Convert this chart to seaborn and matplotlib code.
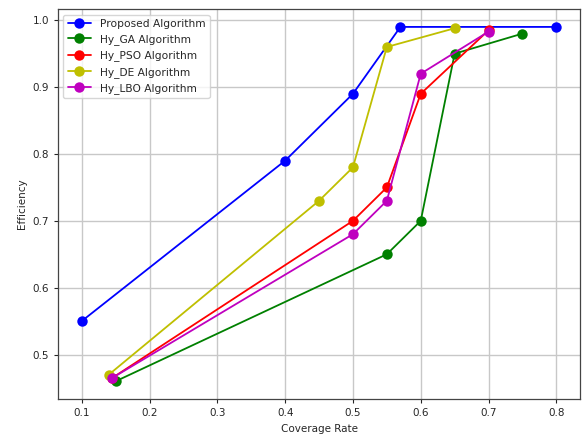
import matplotlib
matplotlib.use("Agg")
import matplotlib.pyplot as plt
import seaborn as sns
import pandas as pd

proposed_x = [0.1, 0.4, 0.5, 0.57, 0.8]
proposed_y = [0.55, 0.79, 0.89, 0.99, 0.99]
ga_x = [0.15, 0.55, 0.6, 0.65, 0.75]
ga_y = [0.46, 0.65, 0.70, 0.95, 0.98]
pso_x = [0.145, 0.5, 0.55, 0.6, 0.7]
pso_y = [0.465, 0.70, 0.75, 0.89, 0.985]
de_x = [0.14, 0.45, 0.5, 0.55, 0.65]
de_y = [0.47, 0.73, 0.78, 0.96, 0.988]
lbo_x = [0.145, 0.5, 0.55, 0.6, 0.7]
lbo_y = [0.465, 0.68, 0.73, 0.92, 0.983]

names = ["Proposed Algorithm", "Hy_GA Algorithm", "Hy_PSO Algorithm",
         "Hy_DE Algorithm", "Hy_LBO Algorithm"]
series = [(proposed_x, proposed_y), (ga_x, ga_y), (pso_x, pso_y),
          (de_x, de_y), (lbo_x, lbo_y)]
colors = ["b", "g", "r", "y", "m"]

rows = []
for n, (xs, ys) in zip(names, series):
    for x, y in zip(xs, ys):
        rows.append({"Coverage Rate": x, "Efficiency": y, "Algorithm": n})
df = pd.DataFrame(rows)

sns.set_style("ticks")
plt.rcParams["font.family"] = ["DejaVu Sans"]
fig = plt.figure(figsize=(5.84, 4.38), dpi=100)
ax = fig.add_axes([0.0993, 0.089, 0.894, 0.89])
sns.lineplot(data=df, x="Coverage Rate", y="Efficiency", hue="Algorithm",
             hue_order=names, palette=dict(zip(names, colors)), sort=False,
             marker="o", markersize=7.5, markeredgewidth=0, linewidth=1.3,
             ax=ax, estimator=None)
ax.grid(True, color="#c8c8c8", linewidth=1.0)
ax.set_xticks([0.1, 0.2, 0.3, 0.4, 0.5, 0.6, 0.7, 0.8])
ax.set_yticks([0.5, 0.6, 0.7, 0.8, 0.9, 1.0])
ax.tick_params(labelsize=7.5, length=3)
ax.set_xlabel("Coverage Rate", fontsize=7.5)
ax.set_ylabel("Efficiency", fontsize=7.5)
for s in ax.spines.values():
    s.set_color("#444444")
    s.set_linewidth(0.9)
ax.legend(loc="upper left", fontsize=7.7, title=None, framealpha=0.8,
          handlelength=2.2, labelspacing=0.5)
fig.savefig("out.png", dpi=100)
